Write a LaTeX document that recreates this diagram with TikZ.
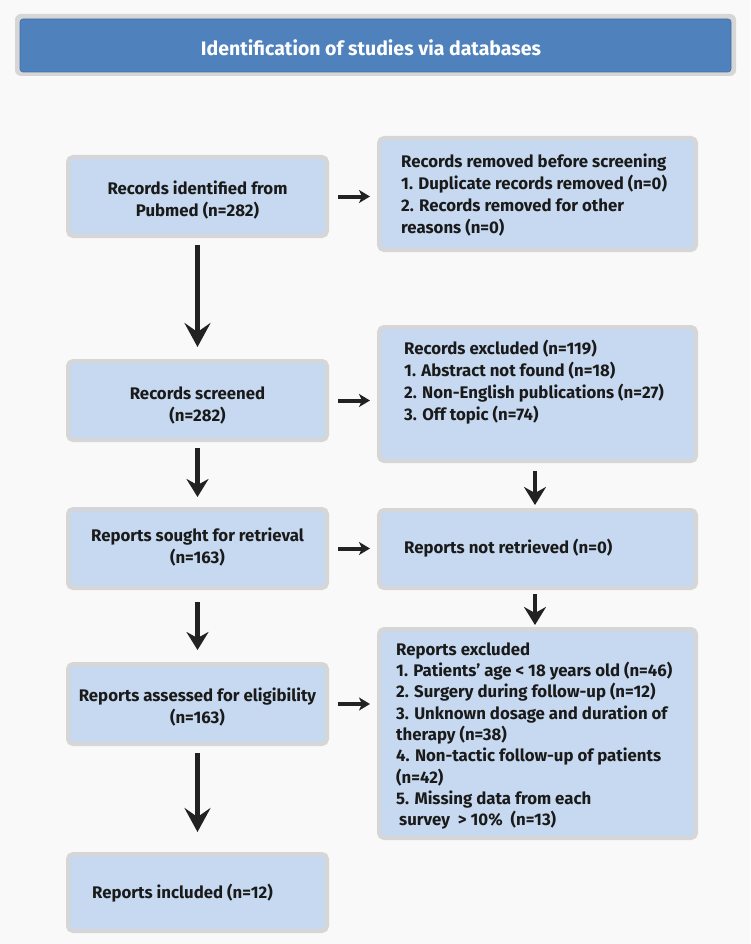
\documentclass[tikz,border=0pt]{standalone}
\usepackage{fontspec}
\setmainfont{Fira Sans}
\usetikzlibrary{arrows.meta,calc}
\definecolor{bg}{HTML}{F9F9F9}
\definecolor{boxfill}{HTML}{C6D9F0}
\definecolor{boxline}{HTML}{D6D6D6}
\definecolor{headblue}{HTML}{4F81BD}
\definecolor{txtc}{HTML}{1A1A1A}
\definecolor{arrc}{HTML}{222222}
\tikzset{
  box/.style={draw=boxline, line width=4pt, fill=boxfill, rounded corners=5pt, inner sep=0pt},
  ctxt/.style={align=center, text=txtc, font=\bfseries\fontsize{16.8}{22}\selectfont, inner sep=0pt},
  ltxt/.style={align=left, text=txtc, font=\bfseries\fontsize{16.8}{22}\selectfont, inner sep=0pt, anchor=west},
  bigarr/.style={draw=arrc, line width=5pt, -{Stealth[length=24pt, width=26pt, inset=9pt]}},
  midarr/.style={draw=arrc, line width=4.5pt, -{Stealth[length=18pt, width=22pt, inset=6pt]}},
  smallarr/.style={draw=arrc, line width=4pt, -{Stealth[length=11pt, width=13pt, inset=3pt]}},
}
\begin{document}
\begin{tikzpicture}[x=1pt, y=-1pt]
\useasboundingbox (0,0) rectangle (750,944);
\fill[bg] (0,0) rectangle (750,944);
% header
\fill[boxline, rounded corners=6pt] (15,14) rectangle (736,76);
\node[draw=headblue!85!black, line width=0.6pt, fill=headblue, rounded corners=3pt,
  minimum width=711pt, minimum height=53pt, inner sep=0pt] (head) at (375.5,45.5) {};
\node[text=white, font=\bfseries\fontsize{19.5}{24}\selectfont, inner sep=0pt] (headt) at (371,48) {Identification of studies via databases};
% left column boxes
\node[box, minimum width=259pt, minimum height=79pt] (l1) at (197.5,196.5) {};
\node[box, minimum width=259pt, minimum height=79pt] (l2) at (197.5,400.5) {};
\node[box, minimum width=259pt, minimum height=79pt] (l3) at (197.5,548.5) {};
\node[box, minimum width=259pt, minimum height=80pt] (l4) at (197.5,704) {};
\node[box, minimum width=259pt, minimum height=77pt] (l5) at (197.5,892.5) {};
% right column boxes
\node[box, minimum width=317pt, minimum height=112pt] (r1) at (537.5,194) {};
\node[box, minimum width=317pt, minimum height=134pt] (r2) at (537.5,394) {};
\node[box, minimum width=317pt, minimum height=78pt] (r3) at (537.5,549) {};
\node[box, minimum width=317pt, minimum height=209pt] (r4) at (537.5,733.5) {};
% left texts
\node[ctxt] (l1t) at (197.5,200) {Records identified from\\Pubmed (n=282)};
\node[ctxt] (l2t) at (197.5,405) {Records screened\\(n=282)};
\node[ctxt] (l3t) at (197.5,547) {Reports sought for retrieval\\(n=163)};
\node[ctxt] (l4t) at (197.5,707.5) {Reports assessed for eligibility\\(n=163)};
\node[ltxt] (l5t) at (92,893) {Reports included (n=12)};
% right texts
\node[ltxt] (r1t) at (401,195) {Records removed before screening\\1. Duplicate records removed (n=0)\\2. Records removed for other\\reasons (n=0)};
\node[ltxt] (r2t) at (404,382) {Records excluded (n=119)\\1. Abstract not found (n=18)\\2. Non-English publications (n=27)\\3. Off topic (n=74)};
\node[ltxt] (r3t) at (404,548) {Reports not retrieved (n=0)};
\node[ltxt, font=\bfseries\fontsize{16.8}{21.3}\selectfont] (r4t) at (396,736) {Reports excluded\\1. Patients' age {<} 18 years old (n=46)\\2. Surgery during follow-up (n=12)\\3. Unknown dosage and duration of\\therapy (n=38)\\4. Non-tactic follow-up of patients\\(n=42)\\5. Missing data from each\\\hspace*{3pt}survey \ {>} 10\% \ (n=13)};
% vertical arrows left
\draw[bigarr, shorten <=7pt, shorten >=12pt] (l1.south) -- (l2.north);
\draw[midarr, shorten <=6pt, shorten >=10pt] (l2.south) -- (l3.north);
\draw[midarr, shorten <=12pt, shorten >=12pt] (l3.south) -- (l4.north);
\draw[bigarr, shorten <=7pt, shorten >=20pt] (l4.south) -- (l5.north);
% vertical arrows right
\draw[midarr, shorten <=8pt, shorten >=3pt] (r2.south -| 535,0) -- (r3.north -| 535,0);
\draw[midarr, shorten <=4pt, shorten >=2pt] (r3.south -| 535,0) -- (r4.north -| 535,0);
% horizontal arrows
\draw[smallarr, shorten <=9pt, shorten >=7pt] (l1.east) -- (l1.east -| r1.west);
\draw[smallarr, shorten <=9pt, shorten >=7pt] (l2.east) -- (l2.east -| r2.west);
\draw[smallarr, shorten <=9pt, shorten >=7pt] (l3.east) -- (l3.east -| r3.west);
\draw[smallarr, shorten <=9pt, shorten >=7pt] (l4.east) -- (l4.east -| r4.west);
\end{tikzpicture}
\end{document}
